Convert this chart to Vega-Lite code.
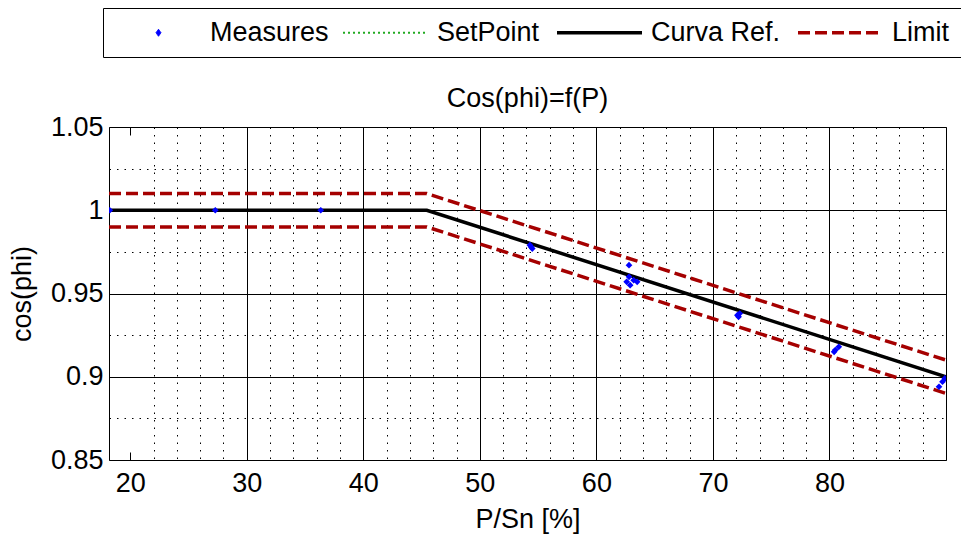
{
  "$schema": "https://vega.github.io/schema/vega-lite/v6.json",
  "width": 837,
  "height": 333,
  "autosize": {"type": "none"},
  "padding": {"left": 109, "top": 127, "right": 15, "bottom": 77},
  "background": "white",
  "title": {"text": "Cos(phi)=f(P)", "fontSize": 27, "font": "Liberation Sans", "fontWeight": "normal", "color": "black", "offset": 14, "dy": 119, "anchor": "middle"},
  "config": {
    "view": {"stroke": "black", "strokeWidth": 1},
    "font": "Liberation Sans",
    "axis": {"domain": false, "labelFont": "Liberation Sans", "labelFontSize": 27, "labelColor": "black", "titleFont": "Liberation Sans", "titleFontSize": 27, "titleFontWeight": "normal", "titleColor": "black", "gridColor": "black", "gridWidth": 1, "tickColor": "black"}
  },
  "datasets": {
    "measures": [
      {"P": 18.25, "cos": 1.0, "series": "Measures"},
      {"P": 27.3, "cos": 1.0, "series": "Measures"},
      {"P": 36.35, "cos": 1.0, "series": "Measures"},
      {"P": 54.3, "cos": 0.979, "series": "Measures"},
      {"P": 54.5, "cos": 0.977, "series": "Measures"},
      {"P": 54.4, "cos": 0.978, "series": "Measures"},
      {"P": 62.8, "cos": 0.967, "series": "Measures"},
      {"P": 62.6, "cos": 0.957, "series": "Measures"},
      {"P": 62.9, "cos": 0.955, "series": "Measures"},
      {"P": 63.2, "cos": 0.958, "series": "Measures"},
      {"P": 63.5, "cos": 0.957, "series": "Measures"},
      {"P": 62.8, "cos": 0.96, "series": "Measures"},
      {"P": 72.1, "cos": 0.937, "series": "Measures"},
      {"P": 72.3, "cos": 0.938, "series": "Measures"},
      {"P": 72.2, "cos": 0.936, "series": "Measures"},
      {"P": 80.5, "cos": 0.916, "series": "Measures"},
      {"P": 80.8, "cos": 0.918, "series": "Measures"},
      {"P": 80.4, "cos": 0.915, "series": "Measures"},
      {"P": 89.4, "cos": 0.894, "series": "Measures"},
      {"P": 89.7, "cos": 0.897, "series": "Measures"},
      {"P": 89.9, "cos": 0.899, "series": "Measures"}
    ],
    "setpoint": [
      {"P": 18.18, "cos": 1.0, "series": "SetPoint"},
      {"P": 27.27, "cos": 1.0, "series": "SetPoint"},
      {"P": 36.36, "cos": 1.0, "series": "SetPoint"},
      {"P": 45.45, "cos": 1.0, "series": "SetPoint"},
      {"P": 54.55, "cos": 0.9796, "series": "SetPoint"},
      {"P": 63.64, "cos": 0.9592, "series": "SetPoint"},
      {"P": 72.73, "cos": 0.9388, "series": "SetPoint"},
      {"P": 81.82, "cos": 0.9184, "series": "SetPoint"},
      {"P": 90.0, "cos": 0.9, "series": "SetPoint"}
    ],
    "curve": [
      {"P": 18.18, "cos": 1.0, "series": "Curva Ref."},
      {"P": 45.45, "cos": 1.0, "series": "Curva Ref."},
      {"P": 90.0, "cos": 0.9, "series": "Curva Ref."}
    ],
    "limit": [
      {"P": 18.18, "cos": 1.01, "bound": "upper", "series": "Limit"},
      {"P": 45.45, "cos": 1.01, "bound": "upper", "series": "Limit"},
      {"P": 90.0, "cos": 0.91, "bound": "upper", "series": "Limit"},
      {"P": 18.18, "cos": 0.99, "bound": "lower", "series": "Limit"},
      {"P": 45.45, "cos": 0.99, "bound": "lower", "series": "Limit"},
      {"P": 90.0, "cos": 0.89, "bound": "lower", "series": "Limit"}
    ]
  },
  "encoding": {
    "x": {
      "field": "P", "type": "quantitative",
      "scale": {"domain": [18.18, 90], "nice": false, "zero": false},
      "axis": null
    },
    "y": {
      "field": "cos", "type": "quantitative",
      "scale": {"domain": [0.85, 1.05], "nice": false, "zero": false},
      "axis": {
        "title": "cos(phi)", "titlePadding": 14,
        "values": [0.85, 0.875, 0.9, 0.925, 0.95, 0.975, 1, 1.025, 1.05],
        "labelExpr": "round(datum.value*40) % 2 === 0 ? format(datum.value, '~g') : ''",
        "labelPadding": 6,
        "tickSize": 0,
        "gridDash": {"condition": {"test": "round(datum.value*40) % 2 === 0", "value": []}, "value": [1.5, 6]}
      }
    },
    "color": {
      "field": "series", "type": "nominal",
      "scale": {"domain": ["Measures", "SetPoint", "Curva Ref.", "Limit"], "range": ["#0000ff", "#22aa22", "#000000", "#a50000"]},
      "legend": {
        "title": null, "orient": "none", "legendX": -6, "legendY": -119,
        "direction": "horizontal", "columns": 4,
        "strokeColor": "black", "fillColor": "white", "padding": 11,
        "labelFont": "Liberation Sans", "labelFontSize": 27, "labelColor": "black",
        "labelOffset": 38, "symbolOffset": 31, "columnPadding": 10,
        "symbolSize": 400, "symbolStrokeWidth": 3.5,
        "encode": {
          "symbols": {
            "update": {
              "shape": {"signal": "datum.value === 'Measures' ? 'M0,-0.35L0.25,0L0,0.35L-0.25,0Z' : 'M-4.25,0L4.25,0'"},
              "size": {"value": 400},
              "strokeDash": {"signal": "datum.value === 'SetPoint' ? [2, 3] : (datum.value === 'Limit' ? [12, 5] : [1, 0])"},
              "strokeWidth": {"signal": "datum.value === 'SetPoint' ? 2 : (datum.value === 'Measures' ? 1 : 3.5)"},
              "fill": {"signal": "datum.value === 'Measures' ? '#0000ff' : 'transparent'"},
              "stroke": {"scale": "color", "field": "value"},
              "opacity": {"value": 1}
            }
          }
        }
      }
    }
  },
  "resolve": {"axis": {"x": "independent"}},
  "layer": [
    {
      "data": {"name": "setpoint"},
      "mark": {"type": "line", "strokeWidth": 2, "strokeDash": [2, 3], "clip": true},
      "encoding": {
        "x": {
          "field": "P", "type": "quantitative",
          "axis": {
            "title": "P/Sn [%]", "titlePadding": 10,
            "values": [20, 22, 24, 26, 28, 30, 32, 34, 36, 38, 40, 42, 44, 46, 48, 50, 52, 54, 56, 58, 60, 62, 64, 66, 68, 70, 72, 74, 76, 78, 80, 82, 84, 86, 88],
            "labelExpr": "datum.value % 10 === 0 ? datum.label : ''",
            "format": "d",
            "labelPadding": 18,
            "tickSize": -8,
            "tickOpacity": {"condition": {"test": "datum.value % 10 === 0", "value": 1}, "value": 0},
            "gridDash": {"condition": {"test": "datum.value % 10 === 0", "value": []}, "value": [1.5, 6]},
            "gridOpacity": {"condition": {"test": "datum.value === 20", "value": 0}, "value": 1}
          }
        }
      }
    },
    {
      "data": {"name": "limit"},
      "mark": {"type": "line", "strokeWidth": 3.5, "strokeDash": [12, 5], "clip": true},
      "encoding": {"detail": {"field": "bound"}}
    },
    {
      "data": {"name": "curve"},
      "mark": {"type": "line", "strokeWidth": 3.5, "clip": true}
    },
    {
      "data": {"name": "measures"},
      "mark": {"type": "point", "shape": "diamond", "filled": true, "size": 45, "opacity": 1, "clip": true},
      "encoding": {
        "x": {
          "field": "P", "type": "quantitative",
          "axis": {"orient": "top", "title": null, "labels": false, "grid": false, "values": [20], "tickSize": -8}
        }
      }
    }
  ]
}
